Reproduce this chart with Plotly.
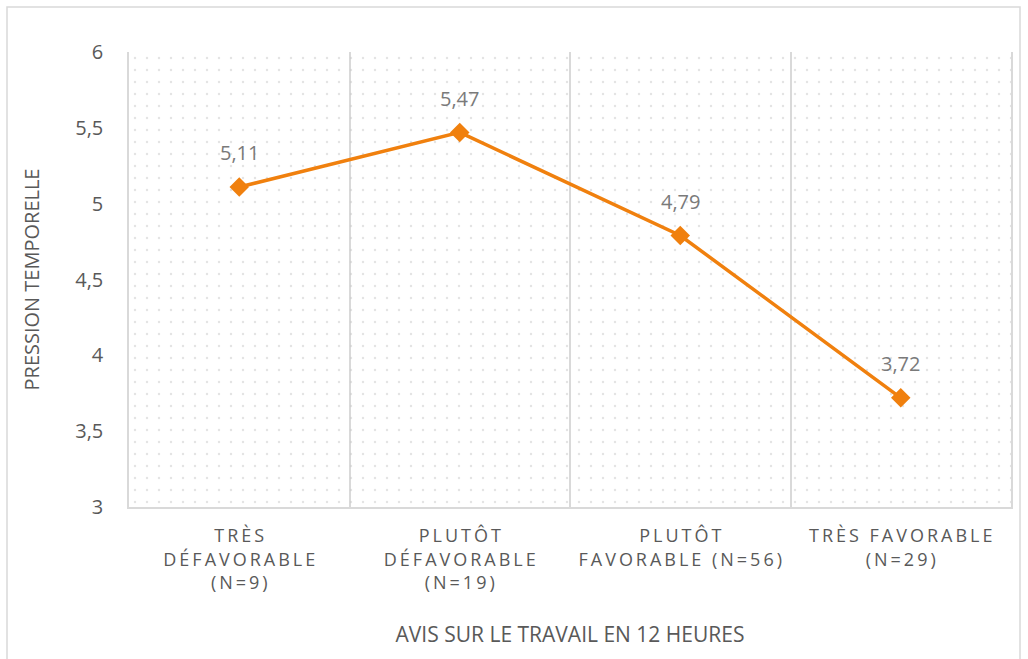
import plotly.graph_objects as go

# Categories (x) and mean "pression temporelle" per group
categories = [
    "TRÈS<br>DÉFAVORABLE<br>(N=9)",
    "PLUTÔT<br>DÉFAVORABLE<br>(N=19)",
    "PLUTÔT<br>FAVORABLE (N=56)",
    "TRÈS FAVORABLE<br>(N=29)",
]
values = [5.11, 5.47, 4.79, 3.72]
value_labels = ["5,11", "5,47", "4,79", "3,72"]
y_ticks = [3, 3.5, 4, 4.5, 5, 5.5, 6]
y_tick_labels = ["3", "3,5", "4", "4,5", "5", "5,5", "6"]

ORANGE = "#F0800E"
GREY_TXT = "#595959"
GRID = "#d9d9d9"
FONT = "Open Sans"


def spaced(label, sep="\u2009"):
    """Widen letter spacing the way the category labels are set."""
    out = []
    for line in label.split("<br>"):
        out.append(sep.join(list(line)))
    return "<br>".join(out)


xpos = list(range(len(categories)))
x_range = [-0.5, len(categories) - 0.5]
y_range = [y_ticks[0], y_ticks[-1]]

fig = go.Figure()

# Dotted plot-area background
fig.add_trace(go.Scatter(
    x=[x_range[0], x_range[1], x_range[1], x_range[0], x_range[0]],
    y=[y_range[0], y_range[0], y_range[1], y_range[1], y_range[0]],
    mode="lines", fill="toself", line=dict(width=0),
    fillcolor="rgba(0,0,0,0)",
    fillpattern=dict(shape=".", size=12, solidity=0.03,
                     fgcolor="#c8c8c8", bgcolor="rgba(0,0,0,0)"),
    hoverinfo="skip", showlegend=False,
))

fig.add_trace(go.Scatter(
    x=xpos, y=values, mode="lines+markers",
    line=dict(color=ORANGE, width=3.5),
    marker=dict(symbol="diamond", size=15, color=ORANGE),
    showlegend=False,
))

for xv, yv, lab in zip(xpos, values, value_labels):
    fig.add_annotation(x=xv, y=yv, text=lab, showarrow=False, yshift=34,
                       font=dict(family=FONT, size=20, color="#7a7a7a"))

fig.update_xaxes(
    range=x_range, tickvals=xpos,
    ticktext=[spaced(c) for c in categories],
    tickfont=dict(family=FONT, size=18, color=GREY_TXT),
    showgrid=False, zeroline=False, ticks="",
    showline=True, linecolor=GRID, linewidth=1.5,
    ticklabelstandoff=12,
    minor=dict(tickvals=[i - 0.5 for i in range(len(categories) + 1)],
               showgrid=True, gridcolor=GRID, gridwidth=1.5, ticks=""),
    title=dict(text="AVIS SUR LE TRAVAIL EN 12 HEURES",
               font=dict(family=FONT, size=21, color=GREY_TXT), standoff=34),
    fixedrange=True,
)
fig.update_yaxes(
    range=y_range, tickvals=y_ticks, ticktext=y_tick_labels,
    tickfont=dict(family=FONT, size=20, color=GREY_TXT),
    showgrid=False, zeroline=False, ticks="",
    showline=True, mirror=True, linecolor=GRID, linewidth=1.5,
    ticklabelstandoff=20,
    title=dict(text="PRESSION TEMPORELLE",
               font=dict(family=FONT, size=20, color=GREY_TXT), standoff=30),
    fixedrange=True,
)

# Outer chart frame
fig.add_shape(type="rect", xref="paper", yref="paper",
              x0=(7 - 129) / 882, x1=(1020 - 129) / 882,
              y0=(507 - 700) / 455, y1=(507 - 7) / 455,
              line=dict(color=GRID, width=1.5), fillcolor="rgba(0,0,0,0)",
              layer="below")

fig.update_layout(
    width=1028, height=659,
    margin=dict(l=129, r=17, t=52, b=152),
    paper_bgcolor="white", plot_bgcolor="white",
    separators=", ",
)

fig.write_html("out.html")
